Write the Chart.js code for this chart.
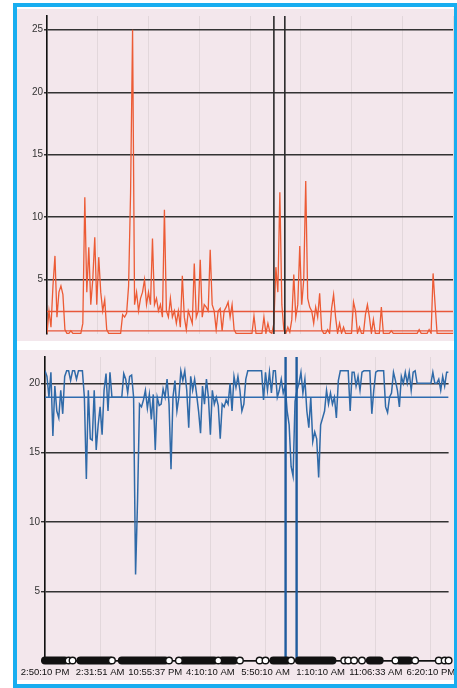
<!DOCTYPE html>
<html><head><meta charset="utf-8">
<script src="https://cdn.jsdelivr.net/npm/chart.js@4/dist/chart.umd.min.js"></script>
<style>
html,body{margin:0;padding:0;background:#fff;width:457px;height:688px;overflow:hidden;}
#frame{position:absolute;left:13px;top:3px;width:444px;height:685px;box-sizing:border-box;border:4px solid #18aef0;border-right-width:3px;background:#fff;}
.pane{position:absolute;background:#f3e7ec;}
#p1{left:17px;top:9px;width:437px;height:332px;}
#p2{left:17px;top:350px;width:437px;height:330px;}
canvas{display:block;}
</style></head>
<body>
<div id="frame"></div>
<div class="pane" id="p1"><canvas id="c1" width="437" height="332"></canvas></div>
<div class="pane" id="p2"><canvas id="c2" width="437" height="330"></canvas></div>
<script>
// ---- data ----
const timeLabels = ['2:50:10 PM','2:31:51 AM','10:55:37 PM','4:10:10 AM','5:50:10 AM','1:10:10 AM','11:06:33 AM','6:20:10 PM'];

const redSeries = [
 0.7,2.5,1.2,4.5,6.9,2.0,4.0,4.5,3.8,1.0,
 0.7,0.7,0.9,0.7,0.7,0.7,0.7,0.7,1.5,11.6,
 4.0,7.6,3.0,5.0,8.4,3.0,6.8,4.0,2.5,3.4,
 1.0,0.7,0.7,0.7,0.7,0.7,0.7,0.7,2.2,2.0,
 2.3,4.5,12.0,25.0,3.0,4.0,2.5,3.5,4.0,5.0,
 3.0,4.0,3.0,8.3,3.0,3.5,2.5,3.0,2.0,10.6,
 2.5,2.0,3.5,2.0,2.5,1.5,2.5,1.2,5.3,2.0,
 1.0,2.5,2.0,1.5,6.3,2.0,2.5,6.6,2.0,3.0,
 2.8,2.5,7.4,3.0,2.5,1.0,2.5,2.7,0.9,2.5,
 2.8,3.2,2.0,3.0,1.0,0.7,0.7,0.7,0.7,0.7,
 0.7,0.7,0.7,0.7,2.1,0.7,0.7,0.7,0.7,2.0,
 0.7,1.5,0.8,0.7,1.5,6.0,4.0,12.0,3.0,1.0,
 0.7,1.2,0.8,1.8,5.4,2.0,3.0,7.7,3.0,5.0,
 12.9,3.5,2.8,2.5,1.5,2.8,2.0,3.9,1.0,0.7,
 0.7,1.0,0.7,2.7,3.8,2.0,0.7,1.5,0.7,1.2,
 0.7,0.7,0.7,0.7,3.2,2.5,0.7,1.2,0.7,0.7,
 2.2,3.0,2.0,0.7,1.8,0.7,0.7,0.7,2.8,0.7,
 0.7,0.7,0.7,0.9,0.7,0.7,0.7,0.7,0.7,0.7,
 0.7,0.7,0.7,0.7,0.7,0.7,0.7,1.0,0.7,0.7,
 0.7,0.7,1.0,0.7,5.5,3.0,0.7,0.7,0.7,0.7,
 0.7,0.7,0.7,0.7,0.7
];
const redLimits = [2.45, 0.9];
const topMarks = [114, 119.5];
const topMin = 0.65, topMax = 26.1;

const blueSeries = [
 20.9,20.5,19.0,20.8,16.2,19.8,18.0,17.5,19.5,17.8,
 20.5,20.9,20.9,20.2,20.9,20.9,20.3,20.9,20.9,20.9,
 19.0,13.1,19.5,16.0,15.9,19.5,15.2,17.0,18.3,16.3,
 19.5,20.7,18.0,20.8,19.0,19.0,19.0,19.0,19.0,19.0,
 20.7,20.3,19.3,20.5,20.6,19.0,6.2,11.5,18.5,18.3,
 18.8,19.5,18.2,19.2,17.4,19.2,15.2,19.0,18.4,18.5,
 19.6,19.0,20.3,18.5,13.8,19.0,20.2,18.0,19.0,20.9,
 20.2,20.9,19.5,16.8,20.5,19.5,20.3,19.2,18.0,16.4,
 19.8,18.5,20.3,19.0,16.3,19.5,18.5,19.0,18.4,16.0,
 18.5,18.3,18.8,18.5,20.0,18.0,20.5,19.7,20.5,19.5,
 18.0,18.5,20.3,20.9,20.9,20.9,20.9,20.9,20.9,20.9,
 20.9,18.8,20.8,19.5,20.8,19.3,20.9,20.9,19.0,19.5,
 20.3,19.3,19.8,18.0,17.0,14.0,13.3,18.7,19.5,20.0,
 20.8,19.3,20.3,18.0,16.8,19.0,15.8,16.5,16.0,13.2,
 17.0,17.5,18.0,19.5,18.5,19.3,18.5,19.0,17.5,20.2,
 20.9,20.9,20.9,20.9,20.9,18.0,20.8,20.8,19.8,20.5,
 19.5,20.8,20.9,20.9,20.9,20.9,17.8,19.5,20.8,20.9,
 20.9,20.9,20.9,18.3,17.9,19.0,19.3,20.8,20.2,19.5,
 18.3,20.5,20.0,20.8,20.0,20.8,19.5,20.8,20.9,20.0,
 20.0,20.0,20.0,20.0,20.0,20.0,20.0,20.8,20.0,20.0,
 20.3,19.5,20.5,19.8,20.8,20.8
];
const blueLimits = [19];
const bottomMarks = [122.2, 127.8];
const bottomMin = 0, bottomMax = 21.9;
const eventRuns = [[0,10],[18,33],[39,61],[70,86],[90,96],[116,123],[129,146],[165,170],[180,185]];
const eventOpen = [12,14,34,63,68,88,99,109,112,125,152,154,157,161,178,188,200,203,205];

// ---- charts ----
const FONT = "'Liberation Sans', Arial, sans-serif";
const faintGrid = 'rgba(195,185,190,0.35)';

new Chart(document.getElementById('c1'), {
  type: 'line',
  data: { datasets: [
    ...topMarks.map(x => ({data:[{x:x,y:topMin},{x:x,y:topMax}], borderColor:'#2a2a2a', borderWidth:1.6, pointRadius:0})),
    {data: redSeries.map((v,i)=>({x:i,y:v})), borderColor:'#ec5b35', borderWidth:1.3, pointRadius:0, tension:0},
    ...redLimits.map(v => ({data:[{x:0,y:v},{x:redSeries.length-1,y:v}], borderColor:'#e8573a', borderWidth:1.4, pointRadius:0}))
  ]},
  options: {
    responsive:false, animation:false, events:[],
    layout:{padding:{top:1,right:1,left:0,bottom:0}},
    plugins:{legend:{display:false}, tooltip:{enabled:false}},
    scales:{
      x:{type:'linear', min:0, max:redSeries.length-1,
         ticks:{display:false, stepSize:25.5},
         grid:{color:faintGrid, drawTicks:false, lineWidth:1},
         border:{display:false},
         afterFit(s){s.height=0; s.paddingLeft=0; s.paddingRight=0;}},
      y:{min:topMin, max:topMax,
         ticks:{stepSize:5, includeBounds:false, padding:1, color:'#333', font:{family:FONT, size:10}},
         grid:{color:'#333', lineWidth:1.4, tickLength:3},
         border:{color:'#111', width:1.6},
         afterFit(s){s.width=30;}}
    }
  }
});

new Chart(document.getElementById('c2'), {
  type: 'line',
  data: { datasets: [
    {data: eventOpen.map(i=>({x:i,y:0})), showLine:false, pointRadius:3.3, pointBackgroundColor:'#fff', pointBorderColor:'#111', pointBorderWidth:1.4, clip:false},
    ...eventRuns.map(r => ({data:[{x:r[0],y:0},{x:r[1],y:0}], borderColor:'#111', borderWidth:8, borderCapStyle:'round', pointRadius:0, clip:false})),
    ...bottomMarks.map(x => ({data:[{x:x,y:bottomMin},{x:x,y:bottomMax}], borderColor:'#1f5c9e', borderWidth:2.4, pointRadius:0})),
    {data: blueSeries.map((v,i)=>({x:i,y:v})), borderColor:'#2f6aa8', borderWidth:1.5, pointRadius:0, tension:0},
    ...blueLimits.map(v => ({data:[{x:0,y:v},{x:blueSeries.length-1,y:v}], borderColor:'#2e6cb0', borderWidth:1.5, pointRadius:0}))
  ]},
  options: {
    responsive:false, animation:false, events:[],
    layout:{padding:{top:1,right:1,left:0,bottom:0}},
    plugins:{legend:{display:false}, tooltip:{enabled:false}},
    scales:{
      x:{type:'linear', min:0, max:blueSeries.length-1,
         ticks:{stepSize:28, includeBounds:false, autoSkip:false, maxRotation:0, minRotation:0, padding:6, color:'#111',
                font:{family:FONT, size:9.5},
                callback:(v)=> { const k = Math.round(v/28); return (Math.abs(v-k*28)<1e-6 && timeLabels[k]) ? timeLabels[k] : ''; }},
         grid:{color:faintGrid, drawTicks:false, lineWidth:1},
         border:{color:'#111', width:1.5},
         afterFit(s){s.height=19.5; s.paddingLeft=0; s.paddingRight=0;}},
      y:{min:bottomMin, max:bottomMax,
         ticks:{stepSize:5, includeBounds:false, padding:1, color:'#333', font:{family:FONT, size:10},
                callback:(v)=> v===0 ? '' : v},
         grid:{color:'#333', lineWidth:1.4, tickLength:4},
         border:{color:'#111', width:1.6},
         afterFit(s){s.width=28;}}
    }
  }
});
</script>
</body></html>
